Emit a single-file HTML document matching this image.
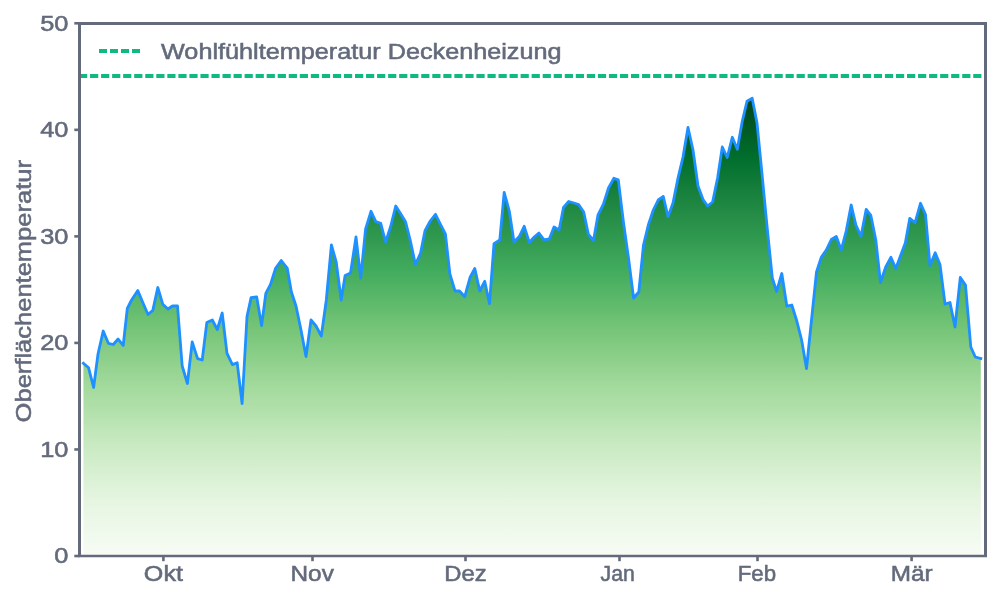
<!DOCTYPE html>
<html><head><meta charset="utf-8"><title>Oberflächentemperatur</title>
<style>
html,body{margin:0;padding:0;background:#fff;width:1000px;height:600px;overflow:hidden}
svg{display:block;will-change:transform}
text{font-family:"Liberation Sans",sans-serif;font-size:22.2px;fill:#636a7b;stroke:#636a7b;stroke-width:0.55px}
</style></head>
<body>
<svg width="1000" height="600" viewBox="0 0 1000 600">
<rect width="1000" height="600" fill="#fff"/>
<defs><linearGradient id="g" gradientUnits="userSpaceOnUse" x1="0" y1="98" x2="0" y2="556">
<stop offset="0.0000" stop-color="#00441b"/>
<stop offset="0.1250" stop-color="#006d2c"/>
<stop offset="0.2500" stop-color="#238b45"/>
<stop offset="0.3750" stop-color="#41ab5d"/>
<stop offset="0.5000" stop-color="#74c476"/>
<stop offset="0.6250" stop-color="#a1d99b"/>
<stop offset="0.7500" stop-color="#c7e9c0"/>
<stop offset="0.8750" stop-color="#e5f5e0"/>
<stop offset="1.0000" stop-color="#f7fcf5"/>
</linearGradient></defs>
<path d="M83.4,556 L83.4,363.3 L88.6,367.8 L93.6,387.5 L98,354 L103.2,331 L108.4,343.3 L113.3,344.5 L118.1,339 L123.2,345.5 L127.3,308.5 L131.6,300 L137.8,290.6 L142.8,302.5 L148,314.5 L152.8,310.4 L157.8,287.5 L162.8,304.3 L167.9,309 L172.5,306 L177.5,306 L182.2,366 L187.4,383.5 L192.2,342 L197.6,358.6 L202.2,360 L206.8,322.6 L212.3,320 L217.3,329.5 L222.2,313 L227,353.3 L232.4,364.6 L237.2,362.8 L242.1,403.5 L247,316.5 L251.1,297.6 L256.7,296.9 L261.6,325.6 L265.8,293.4 L270.5,284.3 L275.6,268.2 L281.2,260.5 L287.2,268 L291.4,292 L296,306 L301,330 L306,356.5 L311,320 L316,326 L321.3,336 L326.3,300 L331.4,245 L336.2,262 L341.2,300 L345.1,275.5 L350.5,273 L356,237 L360.7,278 L365.6,229 L371,211.3 L375.8,221.7 L380.75,223.3 L385.6,242 L390.5,227 L395.75,206 L400.5,213.5 L405.5,221.7 L410.3,240.5 L415.4,264.5 L420.5,253.3 L425,230.7 L430.25,221 L435.5,214.3 L440.3,224 L445.4,234 L449.9,274 L455,291 L459.5,291 L464.75,296.7 L470,277.5 L474.8,268.5 L479.75,291 L484.7,281.3 L489.5,303.7 L494,243.7 L499.8,240 L504.2,192.5 L509.3,211 L514,242 L519.3,236.5 L524.2,226.3 L529.3,242.5 L534.2,237 L538.9,233 L544,239.8 L549.3,239 L554,227 L559.1,230 L563.5,207.5 L568.7,201.5 L574,203 L578.6,204.5 L583.7,212 L588.4,234.5 L593.5,240.5 L598,215 L603.3,204.5 L608.5,188 L613.8,178.3 L618.3,179.8 L623.4,222 L628.5,258 L633.6,298 L638.8,292 L643.5,245 L648.3,225 L653.3,210 L658.2,200 L663.3,196.5 L668,216.7 L673,203 L678,178 L683,157 L688,127.5 L693,150 L698,186 L703,199.5 L707.6,206 L712.6,202 L717.6,178 L722.3,147 L727.2,157.5 L732.3,137.3 L737.3,149.3 L742.2,121.5 L747,101.3 L752.2,98.3 L757,123 L762,174 L766.8,224 L772.3,278 L776.6,291.5 L781.8,273.5 L786.8,306 L791.8,305 L796.8,321 L801.6,340 L806.5,368.5 L811.5,320 L816.5,272 L821.4,257 L826.3,250 L831.3,239.5 L836.3,236.5 L841.2,250 L846.2,231 L851.2,205 L855.9,225 L861,236.3 L866.2,209.3 L870.8,215.3 L875.8,240 L880.5,282.5 L885.7,267 L890.9,257.3 L895.8,268.5 L900.8,255 L905.3,243 L909.8,218.3 L915,222.8 L920.5,203.3 L925.5,214.5 L930,265.5 L935.2,252.8 L940,264.5 L945,304 L950,302.5 L955,327 L960.3,277.5 L965.5,285 L970.8,347 L975.3,357 L980.8,358.5 L980.8,556 Z" fill="url(#g)"/>
<polyline points="83.4,363.3 88.6,367.8 93.6,387.5 98,354 103.2,331 108.4,343.3 113.3,344.5 118.1,339 123.2,345.5 127.3,308.5 131.6,300 137.8,290.6 142.8,302.5 148,314.5 152.8,310.4 157.8,287.5 162.8,304.3 167.9,309 172.5,306 177.5,306 182.2,366 187.4,383.5 192.2,342 197.6,358.6 202.2,360 206.8,322.6 212.3,320 217.3,329.5 222.2,313 227,353.3 232.4,364.6 237.2,362.8 242.1,403.5 247,316.5 251.1,297.6 256.7,296.9 261.6,325.6 265.8,293.4 270.5,284.3 275.6,268.2 281.2,260.5 287.2,268 291.4,292 296,306 301,330 306,356.5 311,320 316,326 321.3,336 326.3,300 331.4,245 336.2,262 341.2,300 345.1,275.5 350.5,273 356,237 360.7,278 365.6,229 371,211.3 375.8,221.7 380.75,223.3 385.6,242 390.5,227 395.75,206 400.5,213.5 405.5,221.7 410.3,240.5 415.4,264.5 420.5,253.3 425,230.7 430.25,221 435.5,214.3 440.3,224 445.4,234 449.9,274 455,291 459.5,291 464.75,296.7 470,277.5 474.8,268.5 479.75,291 484.7,281.3 489.5,303.7 494,243.7 499.8,240 504.2,192.5 509.3,211 514,242 519.3,236.5 524.2,226.3 529.3,242.5 534.2,237 538.9,233 544,239.8 549.3,239 554,227 559.1,230 563.5,207.5 568.7,201.5 574,203 578.6,204.5 583.7,212 588.4,234.5 593.5,240.5 598,215 603.3,204.5 608.5,188 613.8,178.3 618.3,179.8 623.4,222 628.5,258 633.6,298 638.8,292 643.5,245 648.3,225 653.3,210 658.2,200 663.3,196.5 668,216.7 673,203 678,178 683,157 688,127.5 693,150 698,186 703,199.5 707.6,206 712.6,202 717.6,178 722.3,147 727.2,157.5 732.3,137.3 737.3,149.3 742.2,121.5 747,101.3 752.2,98.3 757,123 762,174 766.8,224 772.3,278 776.6,291.5 781.8,273.5 786.8,306 791.8,305 796.8,321 801.6,340 806.5,368.5 811.5,320 816.5,272 821.4,257 826.3,250 831.3,239.5 836.3,236.5 841.2,250 846.2,231 851.2,205 855.9,225 861,236.3 866.2,209.3 870.8,215.3 875.8,240 880.5,282.5 885.7,267 890.9,257.3 895.8,268.5 900.8,255 905.3,243 909.8,218.3 915,222.8 920.5,203.3 925.5,214.5 930,265.5 935.2,252.8 940,264.5 945,304 950,302.5 955,327 960.3,277.5 965.5,285 970.8,347 975.3,357 980.8,358.5" fill="none" stroke="#1e90ff" stroke-width="2.8" stroke-linejoin="round" stroke-linecap="square"/>
<line x1="79" y1="76" x2="985.5" y2="76" stroke="#10b981" stroke-width="4" stroke-dasharray="8.2 2.84"/>
<path d="M78,22 H987 V25 H78 Z M78,22 H81 V557.2 H78 Z M984,22 H987 V557.2 H984 Z M78,554.8 H987 V557.2 H78 Z" fill="#636a7b"/>
<line x1="74.3" y1="556" x2="79.5" y2="556" stroke="#636a7b" stroke-width="2.6"/>
<line x1="74.3" y1="449.46" x2="79.5" y2="449.46" stroke="#636a7b" stroke-width="2.6"/>
<line x1="74.3" y1="342.92" x2="79.5" y2="342.92" stroke="#636a7b" stroke-width="2.6"/>
<line x1="74.3" y1="236.38" x2="79.5" y2="236.38" stroke="#636a7b" stroke-width="2.6"/>
<line x1="74.3" y1="129.84" x2="79.5" y2="129.84" stroke="#636a7b" stroke-width="2.6"/>
<line x1="74.3" y1="23.3" x2="79.5" y2="23.3" stroke="#636a7b" stroke-width="2.6"/>
<line x1="163.4" y1="556.0" x2="163.4" y2="561.2" stroke="#636a7b" stroke-width="2.6"/>
<line x1="312.5" y1="556.0" x2="312.5" y2="561.2" stroke="#636a7b" stroke-width="2.6"/>
<line x1="465.5" y1="556.0" x2="465.5" y2="561.2" stroke="#636a7b" stroke-width="2.6"/>
<line x1="619.5" y1="556.0" x2="619.5" y2="561.2" stroke="#636a7b" stroke-width="2.6"/>
<line x1="757.5" y1="556.0" x2="757.5" y2="561.2" stroke="#636a7b" stroke-width="2.6"/>
<line x1="911.6" y1="556.0" x2="911.6" y2="561.2" stroke="#636a7b" stroke-width="2.6"/>
<line x1="99" y1="51" x2="140" y2="51" stroke="#10b981" stroke-width="4" stroke-dasharray="8 3"/>
<g class="t">
<text x="68.4" y="563.4" text-anchor="end" textLength="14.125" lengthAdjust="spacingAndGlyphs">0</text>
<text x="68.4" y="456.86" text-anchor="end" textLength="28.25" lengthAdjust="spacingAndGlyphs">10</text>
<text x="68.4" y="350.32" text-anchor="end" textLength="28.25" lengthAdjust="spacingAndGlyphs">20</text>
<text x="68.4" y="243.78" text-anchor="end" textLength="28.25" lengthAdjust="spacingAndGlyphs">30</text>
<text x="68.4" y="137.24" text-anchor="end" textLength="28.25" lengthAdjust="spacingAndGlyphs">40</text>
<text x="68.4" y="30.7" text-anchor="end" textLength="28.25" lengthAdjust="spacingAndGlyphs">50</text>
<text x="163.4" y="581.1" text-anchor="middle" textLength="39.03" lengthAdjust="spacingAndGlyphs">Okt</text>
<text x="312.2" y="581.1" text-anchor="middle" textLength="43.33" lengthAdjust="spacingAndGlyphs">Nov</text>
<text x="465.5" y="581.1" text-anchor="middle" textLength="42.4" lengthAdjust="spacingAndGlyphs">Dez</text>
<text x="617.7" y="581.1" text-anchor="middle" textLength="34.22" lengthAdjust="spacingAndGlyphs">Jan</text>
<text x="756.9" y="581.1" text-anchor="middle" textLength="38.4" lengthAdjust="spacingAndGlyphs">Feb</text>
<text x="911.6" y="581.1" text-anchor="middle" textLength="41.89" lengthAdjust="spacingAndGlyphs">Mär</text>
<text transform="translate(30.8,291.25) rotate(-90)" x="0" y="0" text-anchor="middle" textLength="262.3" lengthAdjust="spacingAndGlyphs">Oberflächentemperatur</text>
<text x="161" y="59" textLength="400.55" lengthAdjust="spacingAndGlyphs">Wohlfühltemperatur Deckenheizung</text>
</g>
</svg>
</body></html>
